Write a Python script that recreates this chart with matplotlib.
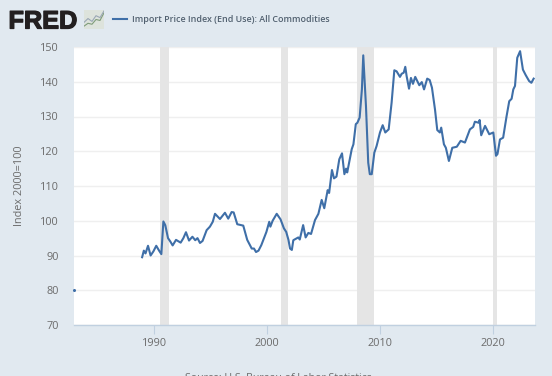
import matplotlib
matplotlib.use("Agg")
import matplotlib.pyplot as plt
import matplotlib.patheffects as pe

# values, decimal years
years = [
    1988.95, 1989.1, 1989.25, 1989.47, 1989.7, 1989.95, 1990.2, 1990.45, 1990.65, 1990.83, 1991.0, 1991.24,
    1991.45, 1991.65, 1991.95, 1992.36, 1992.6, 1992.83, 1993.1, 1993.4, 1993.65, 1993.85, 1994.07, 1994.3,
    1994.66, 1994.95, 1995.2, 1995.4, 1995.84, 1996.28, 1996.57, 1996.87, 1997.05, 1997.37, 1997.9, 1998.25,
    1998.65, 1998.85, 1999.03, 1999.25, 1999.5, 1999.95, 2000.2, 2000.3, 2000.5, 2000.86, 2001.2, 2001.5,
    2001.7, 2001.9, 2002.04, 2002.2, 2002.33, 2002.77, 2002.9, 2003.2, 2003.42, 2003.66, 2003.9, 2004.25,
    2004.55, 2004.84, 2005.07, 2005.37, 2005.5, 2005.75, 2005.93, 2006.15, 2006.4, 2006.64, 2006.85, 2007.0,
    2007.1, 2007.5, 2007.65, 2007.86, 2008.0, 2008.2, 2008.4, 2008.52, 2008.76, 2008.96, 2009.1, 2009.27,
    2009.5, 2009.7, 2010.0, 2010.24, 2010.47, 2010.77, 2011.03, 2011.27, 2011.47, 2011.77, 2011.92, 2012.1,
    2012.24, 2012.36, 2012.57, 2012.74, 2012.92, 2013.12, 2013.48, 2013.7, 2013.9, 2014.18, 2014.4, 2014.6,
    2014.87, 2015.07, 2015.3, 2015.42, 2015.66, 2015.83, 2016.1, 2016.4, 2016.8, 2017.14, 2017.52, 2017.96,
    2018.25, 2018.4, 2018.75, 2018.82, 2018.96, 2019.3, 2019.67, 2020.03, 2020.27, 2020.4, 2020.62, 2020.9,
    2021.2, 2021.44, 2021.65, 2021.8, 2021.95, 2022.15, 2022.4, 2022.65, 2022.9, 2023.2, 2023.4, 2023.6,
]
values = [
    89.5, 91.4, 90.6, 92.8, 90.0, 91.2, 92.8, 91.4, 90.4, 99.8, 98.7, 95.0,
    94.0, 92.9, 94.5, 93.7, 95.0, 96.7, 94.3, 95.4, 94.4, 95.0, 93.6, 94.2,
    97.3, 98.3, 99.7, 102.0, 100.5, 102.3, 100.6, 102.5, 102.4, 99.0, 98.6, 94.5,
    92.0, 92.0, 91.0, 91.4, 93.0, 96.8, 99.7, 98.3, 100.0, 102.0, 100.4, 97.8,
    96.8, 94.5, 92.0, 91.6, 94.4, 95.2, 94.6, 98.75, 95.2, 96.5, 96.2, 100.2,
    102.0, 106.0, 103.6, 108.8, 108.0, 114.6, 112.2, 112.7, 117.7, 119.4, 113.4, 115.0,
    113.9, 120.6, 122.0, 127.8, 128.2, 129.7, 137.8, 147.6, 133.0, 116.7, 113.4, 113.4,
    119.6, 121.5, 125.4, 127.5, 125.4, 126.3, 134.0, 143.3, 143.0, 141.4, 142.3, 142.6,
    144.3, 141.6, 138.0, 141.1, 139.4, 141.4, 139.0, 139.9, 137.8, 140.9, 140.5, 138.3,
    132.0, 126.1, 125.4, 126.8, 122.0, 121.0, 117.2, 121.0, 121.3, 123.0, 122.5, 126.3,
    127.0, 128.5, 128.2, 129.0, 124.6, 127.3, 124.9, 125.4, 118.7, 119.2, 123.4, 123.9,
    130.0, 134.4, 135.1, 137.8, 138.8, 146.9, 148.8, 143.5, 141.9, 140.2, 139.7, 140.9,
]

dot_year = [1982.95]
dot_value = [80]

recession_starts = [1990.55, 2001.2, 2007.97, 2020.02]
recession_ends = [1991.3, 2001.87, 2009.5, 2020.33]

x_ticks = [1990, 2000, 2010, 2020]
y_ticks = [70, 80, 90, 100, 110, 120, 130, 140, 150]

bg = "#e1e9f0"
line_color = "#3f6fa8"
text_color = "#6b6b6b"

plt.rcParams["font.family"] = ["Open Sans", "DejaVu Sans"]

fig = plt.figure(figsize=(5.52, 3.76), dpi=100, facecolor=bg)
ax = fig.add_axes([74 / 552, 1 - 325 / 376, 461 / 552, 278 / 376], facecolor="white")

for start, end in zip(recession_starts, recession_ends):
    ax.axvspan(start, end, color="#e5e5e5", lw=0, zorder=1)

ax.plot(years, values, color=line_color, lw=1.5, solid_joinstyle="round", zorder=3)
ax.plot(dot_year, dot_value, color=line_color, marker="o", ms=1.2, ls="none", clip_on=False, zorder=3)

ax.set_xlim(1982.92, 2023.72)
ax.set_ylim(70, 150)
ax.set_xticks(x_ticks)
ax.set_yticks(y_ticks)
ax.grid(axis="y", color="#efefef", lw=1)
ax.set_axisbelow(True)

for side in ["top", "right", "left"]:
    ax.spines[side].set_visible(False)
ax.spines["bottom"].set_color("#c0d0e0")
ax.spines["bottom"].set_linewidth(1)
ax.spines["bottom"].set_zorder(5)

ax.tick_params(axis="x", length=6.5, width=0.8, color="#c0d0e0", labelcolor=text_color, labelsize=7.8, pad=2.8)
ax.tick_params(axis="y", length=0, labelcolor=text_color, labelsize=7.8, pad=11)

fig.text(20 / 552, 1 - 186 / 376, "Index 2000=100", rotation=90, ha="center", va="center",
         color=text_color, fontsize=7.8)
fig.text(278 / 552, 1 - 373 / 376, "Source: U.S. Bureau of Labor Statistics", ha="center", va="top",
         color=text_color, fontsize=7.6)

# header
fig.text(8.5 / 552, 1 - 28.5 / 376, "FRED", family="Liberation Sans", fontweight="bold", fontsize=18.2,
         color="#231f20", ha="left", va="baseline",
         path_effects=[pe.withStroke(linewidth=0.9, foreground="#231f20")])
icon = fig.add_axes([84 / 552, 1 - 29 / 376, 20 / 552, 19 / 376], facecolor="#dde3dc")
icon.set_xlim(0, 10)
icon.set_ylim(0, 10)
icon.set_xticks([])
icon.set_yticks([])
for side in icon.spines:
    icon.spines[side].set_visible(False)
icon.plot([0, 2, 4, 6, 8, 10], [1.5, 3, 2.5, 5, 4.5, 8.5], color="#7f9c7a", lw=0.8)
icon.plot([0, 2, 4, 6, 8, 10], [3.5, 5.5, 4, 7, 6, 9.5], color="#9aa7b5", lw=0.8)

fig.add_artist(plt.Line2D([113 / 552, 127 / 552], [1 - 19 / 376, 1 - 19 / 376], color=line_color, lw=1.5))
fig.text(132 / 552, 1 - 19 / 376, "Import Price Index (End Use): All Commodities", ha="left", va="center",
         color="#51606f", fontsize=6.4, fontweight="semibold")

fig.savefig("out.png", dpi=100, facecolor=bg)
